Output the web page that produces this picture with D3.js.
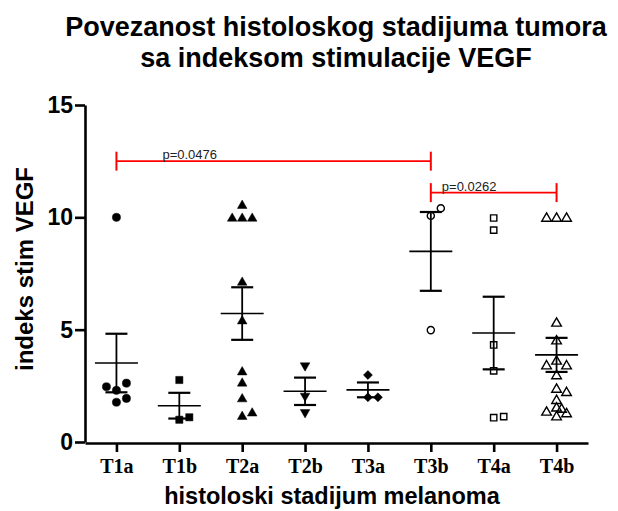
<!DOCTYPE html>
<html>
<head>
<meta charset="utf-8">
<script src="https://cdn.jsdelivr.net/npm/d3@7"></script>
<style>
body { margin: 0; background: #fff; }
svg { display: block; }
</style>
</head>
<body>
<svg id="chart" width="618" height="511"></svg>
<script>
// stages on the x axis and the stimulation index of each case
var categories = ["T1a", "T1b", "T2a", "T2b", "T3a", "T3b", "T4a", "T4b"];
var t1a = [10, 2.3, 1.77, 1.94, 2.62, 2.46];
var t1b = [2.76, 0.99, 1.1];
var t2a = [10.52, 9.95, 9.95, 9.95, 7.1, 5.38, 3.11, 2.61, 1.91, 1.13, 1.28];
var t2b = [3.4, 2.05, 1.32];
var t3a = [2.98, 1.99, 1.99];
var t3b = [10.07, 10.4, 4.98];
var t4a = [9.97, 9.43, 4.32, 3.17, 1.08, 1.13];
var t4b = [9.95, 9.95, 9.95, 5.28, 4.49, 3.59, 3.38, 3.38, 2.94, 2.34, 2.19, 1.84, 1.11, 1.25, 1.32, 1.5, 1.45];
var stageValues = [t1a, t1b, t2a, t2b, t3a, t3b, t4a, t4b];
var yTicks = [0, 5, 10, 15];

// significance brackets
var comparisons = [
    {from: "T1a", to: "T3b", level: 12.5, label: "p=0.0476"},
    {from: "T3b", to: "T4b", level: 11.1, label: "p=0.0262"}
];

var svg = d3.select("#chart");
svg.append("rect").attr("width", 618).attr("height", 511).attr("fill", "#fff");

var x = d3.scalePoint()
    .domain(categories)
    .range([85, 588])
    .padding(0.5);

var y = d3.scaleLinear()
    .domain([0, 15])
    .range([442, 105]);

var sans = "'Liberation Sans', Arial, sans-serif";

//Title
var title = svg.append("text")
    .attr("text-anchor", "middle")
    .attr("font-family", sans)
    .attr("font-weight", "bold")
    .attr("font-size", "27px")
    .attr("fill", "#000");
title.append("tspan").attr("x", 336).attr("y", 36).text("Povezanost histoloskog stadijuma tumora");
title.append("tspan").attr("x", 336).attr("y", 67).text("sa indeksom stimulacije VEGF");

//Axes
var yAxis = svg.append("g")
    .attr("transform", "translate(85,0)")
    .call(d3.axisLeft(y).tickValues(yTicks).tickSize(10).tickSizeOuter(0).tickPadding(2));
yAxis.selectAll("text")
    .attr("font-family", sans)
    .attr("font-weight", "bold")
    .attr("font-size", "23px")
    .attr("fill", "#000");

var xAxis = svg.append("g")
    .attr("transform", "translate(0," + (y(0) + 1) + ")")
    .call(d3.axisBottom(x).tickSize(9).tickSizeOuter(0).tickPadding(7));
xAxis.selectAll("text")
    .attr("font-family", "'Liberation Serif', 'Times New Roman', serif")
    .attr("font-weight", "bold")
    .attr("font-size", "20px")
    .attr("fill", "#000");

svg.selectAll(".domain, .tick line")
    .attr("stroke", "#000")
    .attr("stroke-width", 2.6);

svg.append("text")
    .attr("transform", "translate(33,269) rotate(-90)")
    .attr("text-anchor", "middle")
    .attr("font-family", sans)
    .attr("font-weight", "bold")
    .attr("font-size", "24px")
    .text("indeks stim VEGF");

svg.append("text")
    .attr("x", 332)
    .attr("y", 504)
    .attr("text-anchor", "middle")
    .attr("font-family", sans)
    .attr("font-weight", "bold")
    .attr("font-size", "23.5px")
    .text("histoloski stadijum melanoma");

//Marker per stage
var markers = [
    {type: d3.symbolCircle, size: 52, fill: true, rotate: 0},
    {type: d3.symbolSquare, size: 52, fill: true, rotate: 0},
    {type: d3.symbolTriangle, size: 40, fill: true, rotate: 0},
    {type: d3.symbolTriangle, size: 40, fill: true, rotate: 180},
    {type: d3.symbolSquare, size: 40, fill: true, rotate: 45},
    {type: d3.symbolCircle, size: 40, fill: false, rotate: 0},
    {type: d3.symbolSquare, size: 40, fill: false, rotate: 0},
    {type: d3.symbolTriangle, size: 40, fill: false, rotate: 0}
];

// spread points with nearly equal values sideways, like a column scatter
function dodge(values) {
    var offsets = [0, 10, -10, 5, -5];
    var placed = [];
    values.forEach(function (v) {
        var py = y(v);
        var pick = null, bestGap = -1, bestOffset = 0;
        for (var i = 0; i < offsets.length; i++) {
            var gap = placed.length ? d3.min(placed, function (p) {
                return Math.hypot(p.dx - offsets[i], p.py - py);
            }) : Infinity;
            if (gap >= 7.5) { pick = offsets[i]; break; }
            if (gap > bestGap) { bestGap = gap; bestOffset = offsets[i]; }
        }
        placed.push({value: v, dx: pick === null ? bestOffset : pick, py: py});
    });
    return placed;
}

var plot = svg.append("g");

categories.forEach(function (cat, i) {
    var vals = stageValues[i];
    var cx = x(cat);
    var m = markers[i];
    var sym = d3.symbol().type(m.type).size(m.size);

    plot.append("g").selectAll("path")
        .data(dodge(vals))
        .join("path")
        .attr("d", sym)
        .attr("transform", function (d) {
            return "translate(" + (cx + d.dx) + "," + d.py + ") rotate(" + m.rotate + ")";
        })
        .attr("fill", m.fill ? "#000" : "none")
        .attr("stroke", "#000")
        .attr("stroke-width", m.fill ? 0.5 : 1.4);

    var mean = d3.mean(vals);
    var sem = d3.deviation(vals) / Math.sqrt(vals.length);

    var bars = plot.append("g").attr("stroke", "#000");
    bars.append("line")
        .attr("x1", cx).attr("x2", cx)
        .attr("y1", y(mean + sem)).attr("y2", y(mean - sem))
        .attr("stroke-width", 1.8);
    bars.append("line")
        .attr("x1", cx - 21.5).attr("x2", cx + 21.5)
        .attr("y1", y(mean)).attr("y2", y(mean))
        .attr("stroke-width", 1.6);
    [mean + sem, mean - sem].forEach(function (v) {
        bars.append("line")
            .attr("x1", cx - 11).attr("x2", cx + 11)
            .attr("y1", y(v)).attr("y2", y(v))
            .attr("stroke-width", 2.2);
    });
});

//Significance brackets
var labelShift = [46, 11];
comparisons.forEach(function (c, i) {
    var x1 = x(c.from), x2 = x(c.to), ly = y(c.level);
    var g = svg.append("g").attr("stroke", "#f00").attr("fill", "none");
    g.append("line").attr("x1", x1).attr("x2", x2).attr("y1", ly).attr("y2", ly).attr("stroke-width", 1.6);
    [x1, x2].forEach(function (xx) {
        g.append("line").attr("x1", xx).attr("x2", xx)
            .attr("y1", ly - 9.5).attr("y2", ly + 9.5)
            .attr("stroke-width", 2);
    });
    svg.append("text")
        .attr("x", x1 + labelShift[i])
        .attr("y", ly - 2)
        .attr("font-family", sans)
        .attr("font-size", "13px")
        .attr("fill", "#222")
        .text(c.label);
});
</script>
</body>
</html>
